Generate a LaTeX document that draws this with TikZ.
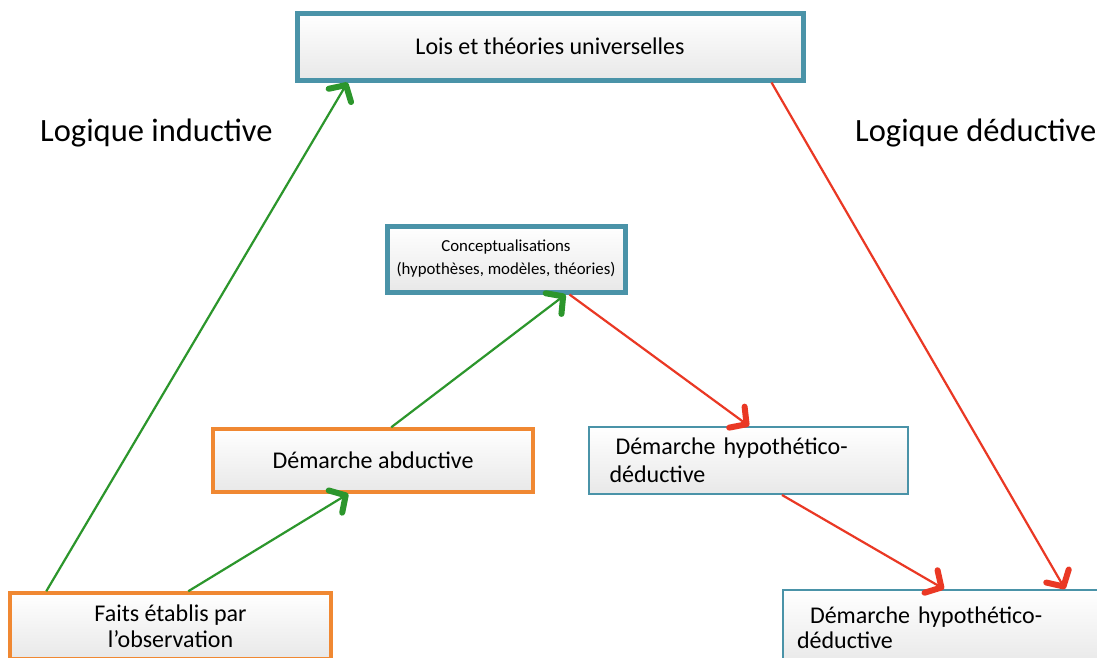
\documentclass[tikz,border=0pt]{standalone}
\usepackage{fontspec}
\setmainfont{Carlito}
\usetikzlibrary{arrows.meta,calc}
\definecolor{teal1}{RGB}{74,147,168}
\definecolor{orng}{RGB}{240,136,50}
\definecolor{grn}{RGB}{44,150,44}
\definecolor{rd}{RGB}{234,56,36}
\tikzset{
  box/.style={draw, top color=white, bottom color=black!9, inner sep=0pt, anchor=center},
  thickteal/.style={box, draw=teal1, line width=5pt},
  thinteal/.style={box, draw=teal1, line width=2pt},
  orbox/.style={box, draw=orng, line width=3.5pt},
  tipstyle/.style={arrows={-Straight Barb[length=12pt,width=26pt,line width=6pt 0 1,round]}},
  garrow/.style={draw=grn, line width=2.2pt, tipstyle},
  rarrow/.style={draw=rd, line width=2.2pt, tipstyle},
  biglabel/.style={font=\fontsize{32.5}{38}\selectfont, anchor=west, inner sep=0pt}
}
\begin{document}
\begin{tikzpicture}[x=1pt,y=-1pt]
\clip (0,0) rectangle (1097,657);
\fill[white] (0,0) rectangle (1097,657);
\node[thickteal, minimum width=506pt, minimum height=67pt, font=\fontsize{24}{28}\selectfont] (top) at (550,46.5) {Lois et théories universelles};
\node[thickteal, minimum width=238pt, minimum height=66pt, align=center, font=\fontsize{16.8}{23}\selectfont] (concept) at (506,259) {Conceptualisations\\(hypothèses, modèles, théories)};
\node[orbox, minimum width=320pt, minimum height=63pt, font=\fontsize{24}{28}\selectfont] (abd) at (373,460.5) {Démarche abductive};
\node[thinteal, minimum width=319pt, minimum height=67pt, text width=278pt, inner xsep=20.5pt, font=\fontsize{24}{28}\selectfont] (mid) at (748.5,460.5) {\noindent\hspace*{6pt}\mbox{Démarche hypothético-}\\déductive};
\node[orbox, minimum width=321pt, minimum height=66pt, align=center, font=\fontsize{24}{26}\selectfont] (faits) at (170.5,626) {Faits établis par\\l’observation};
\node[thinteal, minimum width=324pt, minimum height=76pt, text width=296pt, inner xsep=14pt, font=\fontsize{24}{25}\selectfont] (br) at (945,628) {\noindent\hspace*{13pt}\mbox{Démarche hypothético-}\\déductive};
\node[biglabel] (lind) at (40,133) {Logique inductive};
\node[biglabel] (lded) at (855,133) {Logique déductive};
\draw[garrow] ($(faits.north west)+(38,0)$) -- ($(top.south west)+(53,0)$);
\draw[rarrow] ($(top.south east)+(-34,0)$) -- ($(br.north west)+(283,0)$);
\draw[garrow] ($(faits.north west)+(180,0)$) -- ($(abd.south west)+(137,0)$);
\draw[garrow] ($(abd.north west)+(180,0)$) -- ($(concept.south west)+(181,0)$);
\draw[rarrow] ($(concept.south west)+(185,0)$) -- ($(mid.north west)+(161,0)$);
\draw[rarrow] ($(mid.south west)+(194,0)$) -- ($(br.north west)+(162,0)$);
\end{tikzpicture}
\end{document}
